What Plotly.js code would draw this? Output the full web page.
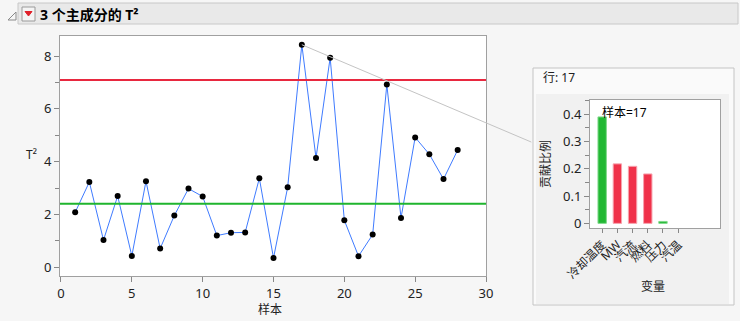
<!DOCTYPE html>
<html><head><meta charset="utf-8">
<script src="https://cdn.plot.ly/plotly-3.0.1.min.js"></script>
<style>body{margin:0;padding:0;background:#f6f6f6}#c{width:740px;height:321px}</style>
</head><body><div id="c"></div>
<script>
// ---- data ----
const samples = [1,2,3,4,5,6,7,8,9,10,11,12,13,14,15,16,17,18,19,20,21,22,23,24,25,26,27,28];
const t2 = [2.08,3.23,1.03,2.70,0.43,3.26,0.71,1.96,2.98,2.68,1.20,1.31,1.32,3.37,0.35,3.03,8.43,4.14,7.94,1.78,0.42,1.24,6.92,1.87,4.92,4.28,3.34,4.44];
const ucl = 7.09;
const centerLine = 2.41;
const selectedRow = 17;
const variables = ['冷却温度','MW','汽流','燃料','压力','汽温'];
const contrib = [0.39,0.218,0.209,0.181,0.007,0];
const contribColors = ['#22b833','#f0324a','#f0324a','#f0324a','#22b833','#f0324a'];
const contribLine = ['#7fd98a','#f7a3ae','#f7a3ae','#f7a3ae','#7fd98a','#f7a3ae'];
const title = '3 个主成分的 T²';

// ---- layout helpers ----
const W = 740, H = 321;
const px = x => x / W, py = y => 1 - y / H;
const FONT = 'Noto Sans, Noto Sans CJK SC, sans-serif';
const rect = (x0,y0,x1,y1,fill,line,lw) => ({type:'rect',xref:'paper',yref:'paper',x0:px(x0),x1:px(x1),y0:py(y1),y1:py(y0),fillcolor:fill,line:{color:line||fill,width:lw===undefined?1:lw},layer:'below'});
const path = (pts,fill,line) => ({type:'path',xref:'paper',yref:'paper',path:'M'+pts.map(p=>px(p[0])+','+py(p[1])).join(' L')+' Z',fillcolor:fill,line:{color:line,width:1},layer:'above'});

const traces = [
  {x: samples, y: t2, type:'scatter', mode:'lines+markers', xaxis:'x', yaxis:'y',
   line:{color:'#3f7bff', width:1}, marker:{color:'#000', size:6}, hoverinfo:'x+y'},
  {x: variables, y: contrib, type:'bar', xaxis:'x2', yaxis:'y2', width:0.55,
   marker:{color: contribColors, line:{color: contribLine, width: contrib.map(v => v > 0 ? 1 : 0)}}}
];

const ax = {showline:true, mirror:true, linecolor:'#a0a0a0', linewidth:1, ticks:'outside', ticklen:5, tickcolor:'#888', showgrid:false, zeroline:false, tickfont:{family:FONT, size:13, color:'#222'}};

const idx = samples.indexOf(selectedRow);

const layout = {
  width: W, height: H, margin:{l:0,r:0,t:0,b:0},
  paper_bgcolor:'#f6f6f6', plot_bgcolor:'#ffffff', showlegend:false,
  font:{family:FONT, color:'#222'},
  xaxis: Object.assign({}, ax, {domain:[px(60), px(486)], range:[-0.07, 30], dtick:5, tick0:0, anchor:'y'}),
  yaxis: Object.assign({}, ax, {domain:[py(276), py(36)], range:[-0.33, 8.76], dtick:2, tick0:0, anchor:'x',
           minor:{ticks:'outside', ticklen:4, dtick:1, tickcolor:'#888'}}),
  xaxis2: Object.assign({}, ax, {domain:[px(590), px(720)], range:[-0.8, 7.75], anchor:'y2', tickangle:-45, ticklen:4,
           tickfont:{family:FONT, size:12, color:'#222'}}),
  yaxis2: Object.assign({}, ax, {domain:[py(228), py(100)], range:[-0.017, 0.452], dtick:0.1, tick0:0, anchor:'x2',
           minor:{ticks:'outside', ticklen:4, dtick:0.05, tickcolor:'#888'}}),
  shapes: [
    rect(18,3,738,24,'#e9e9e9','#c8c8c8'),
    rect(533,68,734,305,'#fafafa','#c4c4c4'),
    rect(536,94,729,304,'#f1f1f1','#f1f1f1',0),
    rect(590,100,720,228,'#ffffff','#ffffff',0),
    rect(60,36,486,276,'#ffffff','#ffffff',0),
    {type:'line', xref:'x domain', yref:'y', x0:0, x1:1, y0:ucl, y1:ucl, line:{color:'#e8283f', width:2}},
    {type:'line', xref:'x domain', yref:'y', x0:0, x1:1, y0:centerLine, y1:centerLine, line:{color:'#1fb52e', width:2}},
    path([[8,20],[16,20],[16,12]],'rgba(0,0,0,0)','#8a8a8a'),
    Object.assign(rect(22,7,35,21,'#f4f4f4','#9a9a9a'),{layer:'above'}),
    path([[25,11.5],[32,11.5],[28.5,16]],'#e0202a','#e0202a')
  ],
  annotations: [
    {xref:'paper', yref:'paper', x:px(38), y:py(14), xanchor:'left', yanchor:'middle', showarrow:false,
     text:'<b>'+title+'</b>', font:{family:FONT, size:14, color:'#000'}},
    {xref:'paper', yref:'paper', x:px(31), y:py(155), xanchor:'center', yanchor:'middle', showarrow:false,
     text:'T²', font:{family:FONT, size:12, color:'#222'}},
    {xref:'paper', yref:'paper', x:px(270), y:py(309), xanchor:'center', yanchor:'middle', showarrow:false,
     text:'样本', font:{family:FONT, size:12, color:'#222'}},
    {xref:'x', yref:'y', x:samples[idx], y:t2[idx], ax:231, ay:98, text:'', showarrow:true, arrowhead:0,
     arrowcolor:'#c4c4c4', arrowwidth:1, standoff:0, startstandoff:0},
    {xref:'paper', yref:'paper', x:px(541), y:py(77), xanchor:'left', yanchor:'middle', showarrow:false,
     text:'行: '+selectedRow, font:{family:FONT, size:12, color:'#222'}},
    {xref:'paper', yref:'paper', x:px(600), y:py(113), xanchor:'left', yanchor:'middle', showarrow:false,
     text:'样本='+selectedRow, font:{family:FONT, size:12, color:'#000'}},
    {xref:'paper', yref:'paper', x:px(546), y:py(164), xanchor:'center', yanchor:'middle', showarrow:false, textangle:-90,
     text:'贡献比例', font:{family:FONT, size:12, color:'#222'}},
    {xref:'paper', yref:'paper', x:px(653), y:py(286), xanchor:'center', yanchor:'middle', showarrow:false,
     text:'变量', font:{family:FONT, size:12, color:'#222'}}
  ]
};

Plotly.newPlot('c', traces, layout, {displayModeBar:false, staticPlot:true});
</script></body></html>
